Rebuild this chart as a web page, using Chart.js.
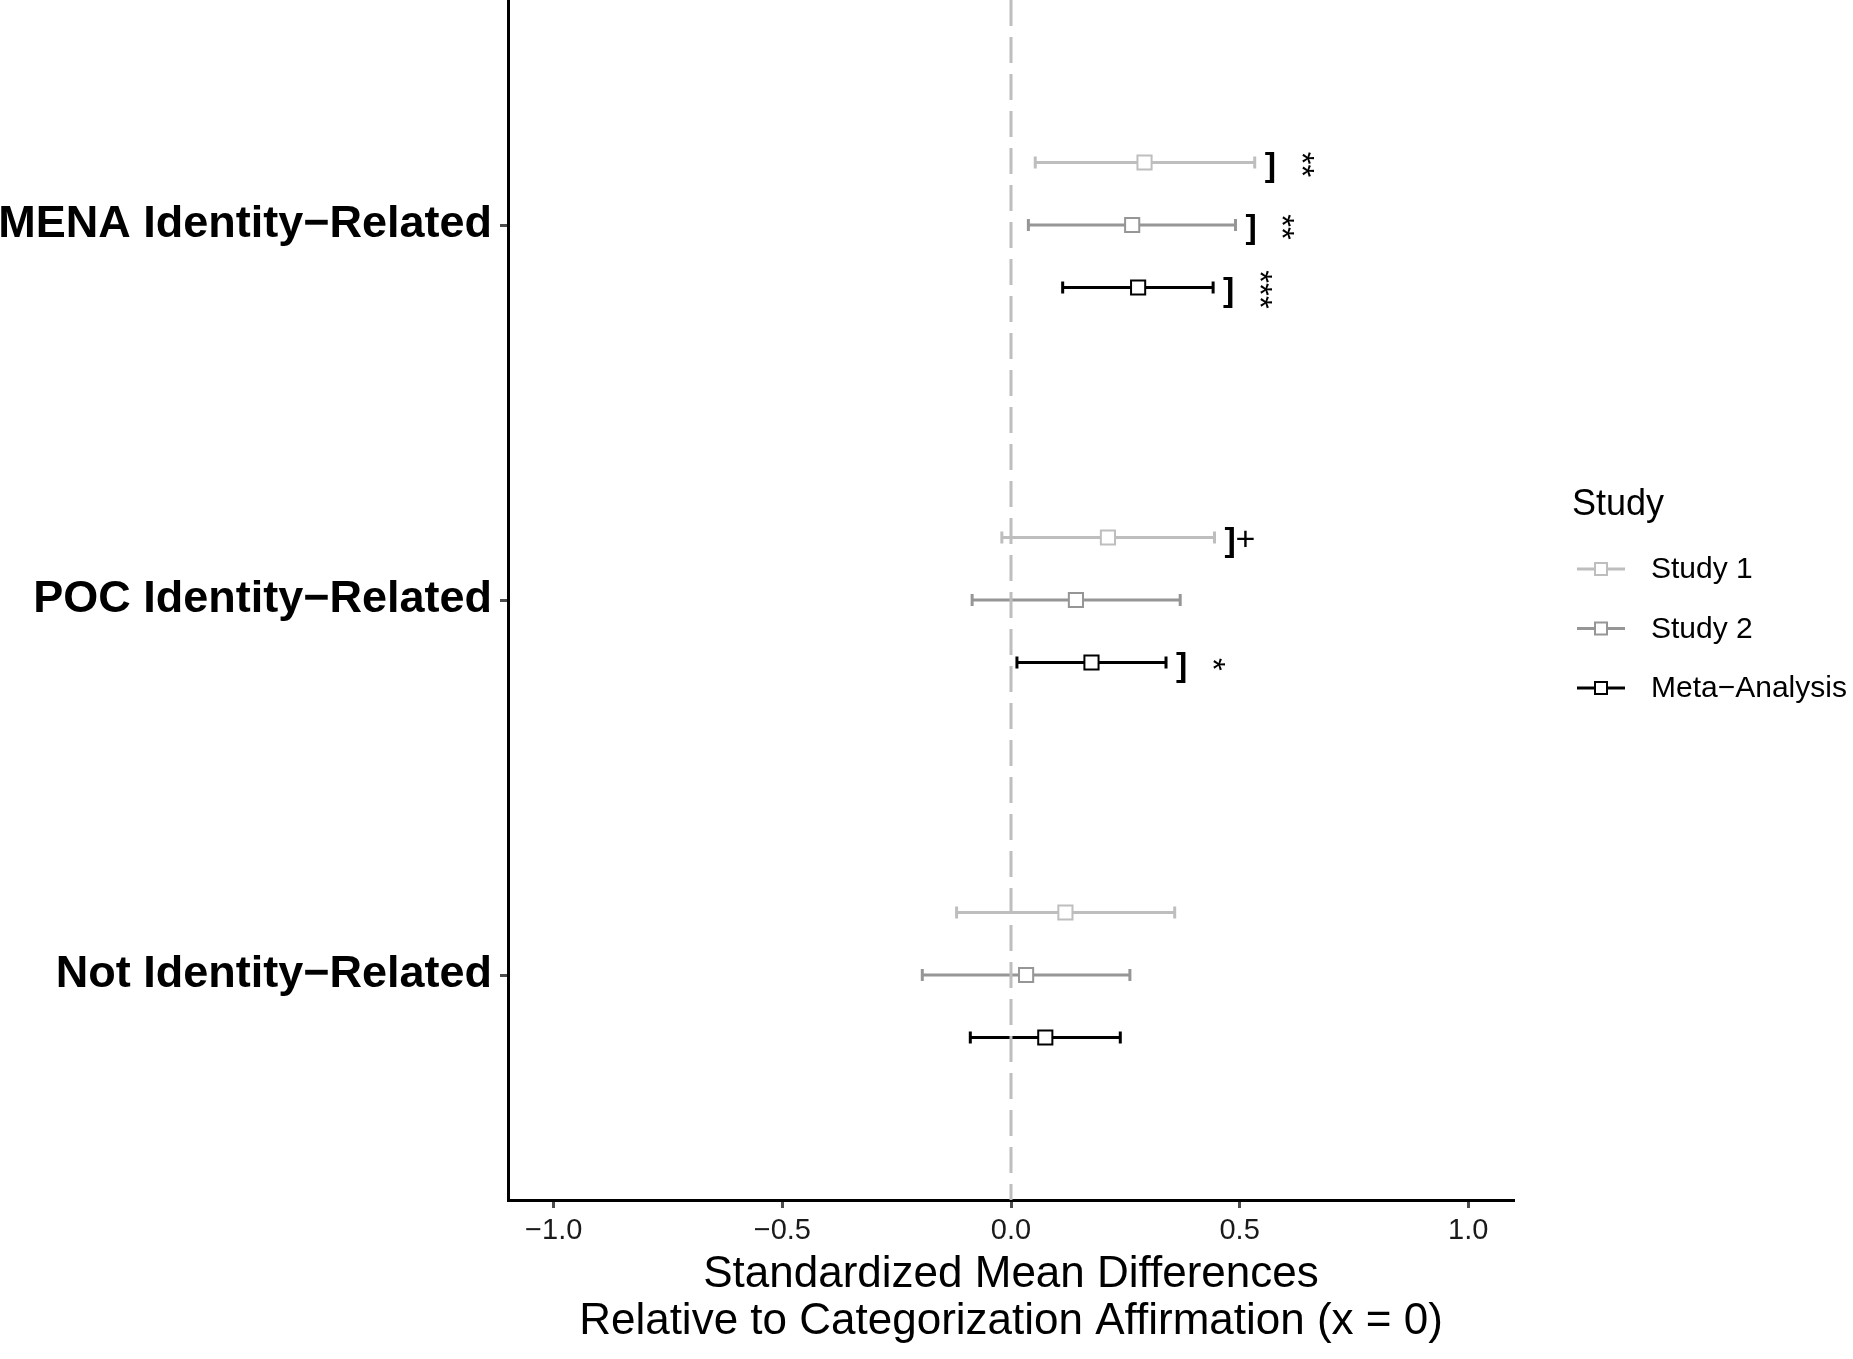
<!DOCTYPE html>
<html>
<head>
<meta charset="utf-8">
<script src="https://cdn.jsdelivr.net/npm/chart.js@4.4.1/dist/chart.umd.min.js"></script>
<style>
  html, body { margin: 0; padding: 0; background: #fff; }
  #wrap { width: 1853px; height: 1359px; }
</style>
</head>
<body>
<div id="wrap"><canvas id="c" width="1853" height="1359"></canvas></div>
<script>
// categories bottom -> top
var categories = ['Not Identity\u2212Related', 'POC Identity\u2212Related', 'MENA Identity\u2212Related'];
var seriesNames = ['Study 1', 'Study 2', 'Meta\u2212Analysis'];

var study1Est = [0.119, 0.212, 0.292];
var study1Lo  = [-0.119, -0.020, 0.053];
var study1Hi  = [0.358, 0.445, 0.533];
var study1Sig = ['', '+', '**'];

var study2Est = [0.033, 0.142, 0.265];
var study2Lo  = [-0.194, -0.085, 0.038];
var study2Hi  = [0.260, 0.370, 0.491];
var study2Sig = ['', '', '**'];

var metaEst = [0.075, 0.176, 0.278];
var metaLo  = [-0.089, 0.013, 0.113];
var metaHi  = [0.239, 0.339, 0.442];
var metaSig = ['', '*', '***'];

var xTicks = [-1.0, -0.5, 0.0, 0.5, 1.0];

var colors = ['#bebebe', '#969696', '#000000'];
var dodge = [1 / 6, 0, -1 / 6];
var FONT = '"Liberation Sans", Arial, Helvetica, sans-serif';

var est = [study1Est, study2Est, metaEst];
var lo = [study1Lo, study2Lo, metaLo];
var hi = [study1Hi, study2Hi, metaHi];
var sig = [study1Sig, study2Sig, metaSig];

var datasets = seriesNames.map(function (name, i) {
    return {
        label: name,
        data: est[i].map(function (v, j) { return { x: v, y: j + 1 + dodge[i] }; }),
        pointStyle: 'rect',
        pointRadius: 10,
        pointHoverRadius: 10,
        pointBorderWidth: 2,
        borderColor: colors[i],
        pointBackgroundColor: '#ffffff',
        showLine: false
    };
});

function fmt(v) {
    var s = Math.abs(v).toFixed(1);
    return v < 0 ? '\u2212' + s : s;
}

function noPad(scale) {
    scale.paddingTop = 0;
    scale.paddingBottom = 0;
    scale.paddingLeft = 0;
    scale.paddingRight = 0;
}

var forestPlugin = {
    id: 'forest',
    beforeDatasetsDraw: function (chart) {
        var ctx = chart.ctx, xs = chart.scales.x, ys = chart.scales.y;
        ctx.save();
        // error bars
        for (var i = 0; i < 3; i++) {
            ctx.strokeStyle = colors[i];
            ctx.lineWidth = 3;
            for (var j = 0; j < categories.length; j++) {
                var y = ys.getPixelForValue(j + 1 + dodge[i]);
                var x1 = xs.getPixelForValue(lo[i][j]);
                var x2 = xs.getPixelForValue(hi[i][j]);
                ctx.beginPath();
                ctx.moveTo(x1, y); ctx.lineTo(x2, y);
                ctx.moveTo(x1, y - 6); ctx.lineTo(x1, y + 6);
                ctx.moveTo(x2, y - 6); ctx.lineTo(x2, y + 6);
                ctx.stroke();
            }
        }
        // reference line at x = 0
        var x0 = xs.getPixelForValue(0);
        ctx.strokeStyle = '#bebebe';
        ctx.lineWidth = 3;
        ctx.setLineDash([26, 11]);
        ctx.beginPath();
        ctx.moveTo(x0, chart.chartArea.top);
        ctx.lineTo(x0, chart.chartArea.bottom);
        ctx.stroke();
        ctx.restore();
    },
    afterDatasetsDraw: function (chart) {
        var ctx = chart.ctx, xs = chart.scales.x, ys = chart.scales.y;
        ctx.save();
        ctx.fillStyle = '#000';
        for (var i = 0; i < 3; i++) {
            for (var j = 0; j < categories.length; j++) {
                var s = sig[i][j];
                if (!s) continue;
                var y = ys.getPixelForValue(j + 1 + dodge[i]);
                var xh = xs.getPixelForValue(hi[i][j]);
                // bracket
                ctx.font = 'bold 34px ' + FONT;
                ctx.textAlign = 'left';
                ctx.textBaseline = 'alphabetic';
                ctx.fillText(']', xh + 10, y + 13);
                if (s === '+') {
                    ctx.font = '34px ' + FONT;
                    ctx.textAlign = 'center';
                    ctx.textBaseline = 'middle';
                    ctx.fillText('+', xh + 31, y + 3);
                } else {
                    ctx.save();
                    ctx.translate(xh + 45, y + 2);
                    ctx.rotate(Math.PI / 2);
                    ctx.font = '33px ' + FONT;
                    ctx.textAlign = 'center';
                    ctx.textBaseline = 'middle';
                    ctx.fillText(s, 0, 0);
                    ctx.restore();
                }
            }
        }
        ctx.restore();
    },
    afterDraw: function (chart) {
        var ctx = chart.ctx;
        var lx = chart.chartArea.right + 58;
        ctx.save();
        ctx.fillStyle = '#000';
        ctx.textAlign = 'left';
        ctx.textBaseline = 'middle';
        ctx.font = '36px ' + FONT;
        ctx.fillText('Study', lx, 505);
        ctx.font = '30px ' + FONT;
        for (var i = 0; i < seriesNames.length; i++) {
            var y = 569 + i * 59.5;
            ctx.strokeStyle = colors[i];
            ctx.lineWidth = 3;
            ctx.beginPath();
            ctx.moveTo(lx + 5, y); ctx.lineTo(lx + 53, y);
            ctx.stroke();
            ctx.fillStyle = '#fff';
            ctx.fillRect(lx + 23, y - 6, 12, 12);
            ctx.lineWidth = 2;
            ctx.strokeRect(lx + 23, y - 6, 12, 12);
            ctx.fillStyle = '#000';
            ctx.fillText(seriesNames[i], lx + 79, y + 1);
        }
        ctx.restore();
    }
};

new Chart(document.getElementById('c'), {
    type: 'scatter',
    data: { datasets: datasets },
    options: {
        responsive: false,
        animation: false,
        devicePixelRatio: 1,
        layout: { autoPadding: false, padding: { left: 0, right: 339, top: 0, bottom: 0 } },
        plugins: { legend: { display: false }, tooltip: { enabled: false } },
        scales: {
            x: {
                type: 'linear',
                min: -1.1,
                max: 1.1,
                afterBuildTicks: function (scale) {
                    scale.ticks = xTicks.map(function (v) { return { value: v }; });
                },
                afterFit: function (scale) { scale.height = 159; noPad(scale); },
                grid: {
                    display: true, drawOnChartArea: false, drawTicks: true,
                    tickLength: 8, tickWidth: 3, tickColor: '#4d4d4d'
                },
                border: { display: true, color: '#000', width: 3 },
                ticks: {
                    padding: 6,
                    color: '#1a1a1a',
                    font: { family: FONT, size: 29 },
                    maxRotation: 0,
                    autoSkip: false,
                    callback: function (v) { return fmt(v); }
                },
                title: {
                    display: true,
                    text: ['Standardized Mean Differences', 'Relative to Categorization Affirmation (x = 0)'],
                    color: '#000',
                    font: { family: FONT, size: 44, lineHeight: 1.07 },
                    padding: { top: 0, bottom: 14 }
                }
            },
            y: {
                type: 'linear',
                min: 0.4,
                max: 3.6,
                afterBuildTicks: function (scale) {
                    scale.ticks = categories.map(function (c, i) { return { value: i + 1 }; });
                },
                afterFit: function (scale) { scale.width = 508; noPad(scale); },
                grid: {
                    display: true, drawOnChartArea: false, drawTicks: true,
                    tickLength: 8, tickWidth: 3, tickColor: '#4d4d4d'
                },
                border: { display: true, color: '#000', width: 3 },
                ticks: {
                    padding: 8,
                    color: '#000',
                    autoSkip: false,
                    font: { family: FONT, size: 45, weight: 'bold' },
                    callback: function (v) { return categories[Math.round(v) - 1] || ''; }
                }
            }
        }
    },
    plugins: [forestPlugin]
});
</script>
</body>
</html>
